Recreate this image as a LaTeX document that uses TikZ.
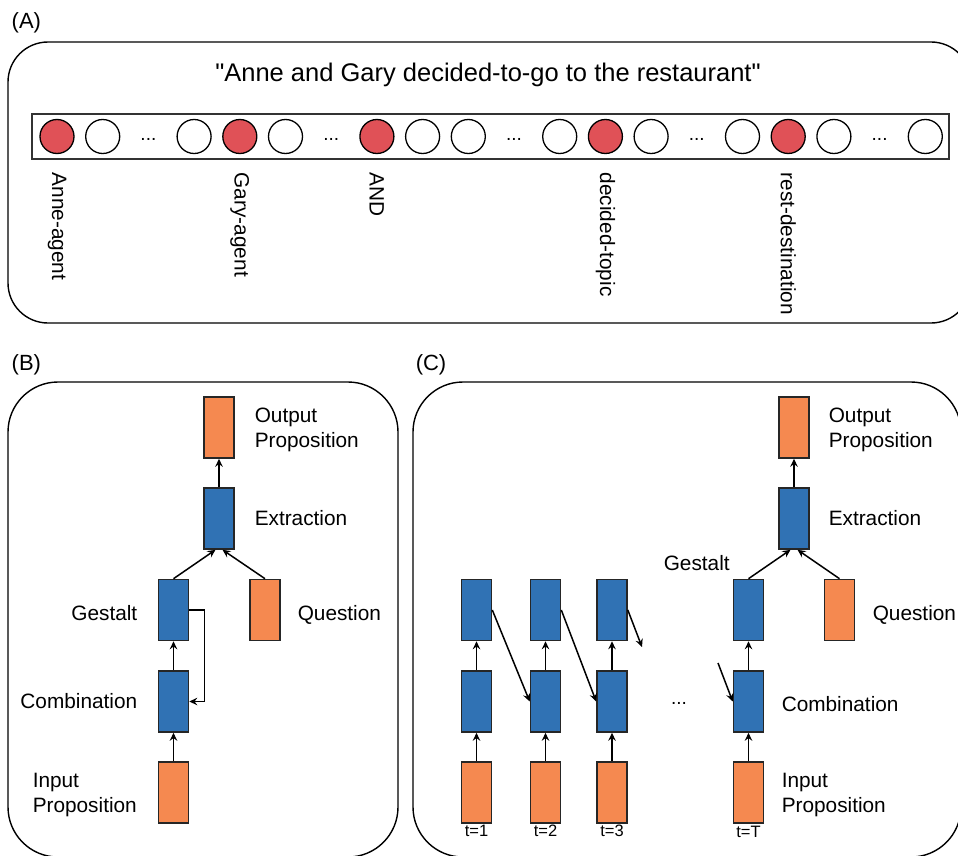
\documentclass[tikz,border=0pt]{standalone}
\usepackage{fontspec}
\setmainfont{Liberation Sans}[Ligatures=TeXOff]
\usetikzlibrary{arrows.meta}

\definecolor{hotred}{RGB}{224,81,87}
\definecolor{proporange}{RGB}{245,137,80}
\definecolor{layerblue}{RGB}{48,114,180}

\tikzset{
    panel/.style={draw, line width=1.4pt, rounded corners=#1},
    cell/.style={draw, circle, line width=1.3pt, minimum size=34pt, inner sep=0pt, fill=white},
    hot/.style={cell, fill=hotred},
    layer/.style={draw=black!85, line width=1.6pt, minimum width=30pt, minimum height=61pt, inner sep=0pt, fill=layerblue},
    prop/.style={layer, fill=proporange},
    lbl/.style={inner sep=0pt, font=\fontsize{20.8}{25}\selectfont},
    tag/.style={inner sep=0pt, font=\fontsize{16.5}{19}\selectfont},
    dots/.style={inner sep=0pt, anchor=base, font=\fontsize{19}{21}\selectfont},
}

\begin{document}
\begin{tikzpicture}[x=1pt, y=-1pt, line width=1.5pt,
        >={Stealth[length=8pt, width=7.5pt, inset=2.8pt]}]
            \clip (0,0) rectangle (958,856);

            % (A) sentence vector
            \node[lbl, anchor=west, font=\fontsize{22}{25}\selectfont] (tagA) at (11,23) {(A)};
            \draw[panel=40pt] (8,42) rectangle (971,323);
            \node[inner sep=0pt, font=\fontsize{25.5}{30}\selectfont] (sent) at (488,75) {"Anne and Gary decided-to-go to the restaurant"};
            \draw[line width=1.6pt, draw=black!80] (32,114) rectangle (949,159);
            \foreach \k/\s in {0/hot, 1/cell, 3/cell, 4/hot, 5/cell, 7/hot, 8/cell, 9/cell,
                               11/cell, 12/hot, 13/cell, 15/cell, 16/hot, 17/cell, 19/cell}
                \node[\s] (u\k) at (57+45.7*\k, 136.5) {};
            \foreach \k in {2, 6, 10, 14, 18}
                \node[dots] (d\k) at (57+45.7*\k, 140) {...};

            \node[lbl, rotate=-90, anchor=west] (anne) at (57,172) {Anne-agent};
            \node[lbl, rotate=-90, anchor=west] (gary) at (239.8,172) {Gary-agent};
            \node[lbl, rotate=-90, anchor=west] (and)  at (376.9,172) {AND};
            \node[lbl, rotate=-90, anchor=west] (dec)  at (605.4,172) {decided-topic};
            \node[lbl, rotate=-90, anchor=west] (rest) at (788.2,172) {rest-destination};

            % (B) single step
            \node[lbl, anchor=west, font=\fontsize{22}{25}\selectfont] (tagB) at (11,365) {(B)};
            \draw[panel=50pt] (8,382) rectangle (398,857);
            \node[prop]  (bout)  at (219,427.5) {};
            \node[layer] (bext)  at (219,518.5) {};
            \node[layer] (bgest) at (173.5,610) {};
            \node[prop]  (bques) at (265,610) {};
            \node[layer] (bcomb) at (173.5,701.5) {};
            \node[prop]  (binp)  at (173.5,792.5) {};

            \draw[->] (binp) -- (bcomb);
            \draw[->] (bcomb) -- (bgest);
            \draw[->] (bgest.north) -- ([xshift=-3.5pt]bext.south);
            \draw[->] (bques.north) -- ([xshift=3.5pt]bext.south);
            \draw[->] (bext) -- (bout);
            \draw[->] (bgest.east) -- ++(15,0) |- (bcomb.east);

            \node[lbl, anchor=west, align=left] (lbout)  at (254,429.5) {Output\\Proposition};
            \node[lbl, anchor=west] (lbext)  at (254,518) {Extraction};
            \node[lbl, anchor=east] (lbgest) at (138,613) {Gestalt};
            \node[lbl, anchor=west] (lbques) at (297,614.5) {Question};
            \node[lbl, anchor=east] (lbcomb) at (138,701.5) {Combination};
            \node[lbl, anchor=west, align=left] (lbinp) at (32,795) {Input\\Proposition};

            % (C) unrolled in time
            \node[lbl, anchor=west, font=\fontsize{22}{25}\selectfont] (tagC) at (415,365) {(C)};
            \draw[panel=50pt] (413,382) rectangle (961,857);
            \node[layer] (g1) at (476.5,610) {};
            \node[layer] (c1) at (476.5,701.5) {};
            \node[prop]  (i1) at (476.5,792.5) {};
            \node[layer] (g2) at (545.5,610) {};
            \node[layer] (c2) at (545.5,701.5) {};
            \node[prop]  (i2) at (545.5,792.5) {};
            \node[layer] (g3) at (612,610) {};
            \node[layer] (c3) at (612,701.5) {};
            \node[prop]  (i3) at (612,792.5) {};
            \node[layer] (gT) at (748.5,610) {};
            \node[layer] (cT) at (748.5,701.5) {};
            \node[prop]  (iT) at (748.5,792.5) {};
            \node[layer] (cext) at (794,518.5) {};
            \node[prop]  (cout) at (794,427.5) {};
            \node[prop]  (cques) at (839.5,610) {};
            \node[dots] (cdots) at (679,704) {...};
            \coordinate (g3out) at (642,647);
            \coordinate (cTin)  at (718,663);

            \draw[->] (i1) -- (c1);
            \draw[->] (c1) -- (g1);
            \draw[->] (i2) -- (c2);
            \draw[->] (c2) -- (g2);
            \draw[->] (i3) -- (c3);
            \draw[->] (c3) -- (g3);
            \draw[->] (iT) -- (cT);
            \draw[->] (cT) -- (gT);
            \draw[->] (g1.east) -- (c2.west);
            \draw[->] (g2.east) -- (c3.west);
            \draw[->] (g3.east) -- (g3out);
            \draw[->] (cTin) -- (cT.west);
            \draw[->] (gT.north) -- ([xshift=-3.5pt]cext.south);
            \draw[->] (cques.north) -- ([xshift=3.5pt]cext.south);
            \draw[->] (cext) -- (cout);

            \node[tag] (t1) at (476.5,831) {t=1};
            \node[tag] (t2) at (545.5,831) {t=2};
            \node[tag] (t3) at (612,831) {t=3};
            \node[tag] (tT) at (748.5,832) {t=T};

            \node[lbl, anchor=west, align=left] (lcout) at (828,429.5) {Output\\Proposition};
            \node[lbl, anchor=west] (lcext)  at (828,518) {Extraction};
            \node[lbl, anchor=west] (lcgest) at (663,563) {Gestalt};
            \node[lbl, anchor=west] (lcques) at (872,614.5) {Question};
            \node[lbl, anchor=west] (lccomb) at (781,704) {Combination};
            \node[lbl, anchor=west, align=left] (lcinp) at (781,795) {Input\\Proposition};
        \end{tikzpicture}
\end{document}
